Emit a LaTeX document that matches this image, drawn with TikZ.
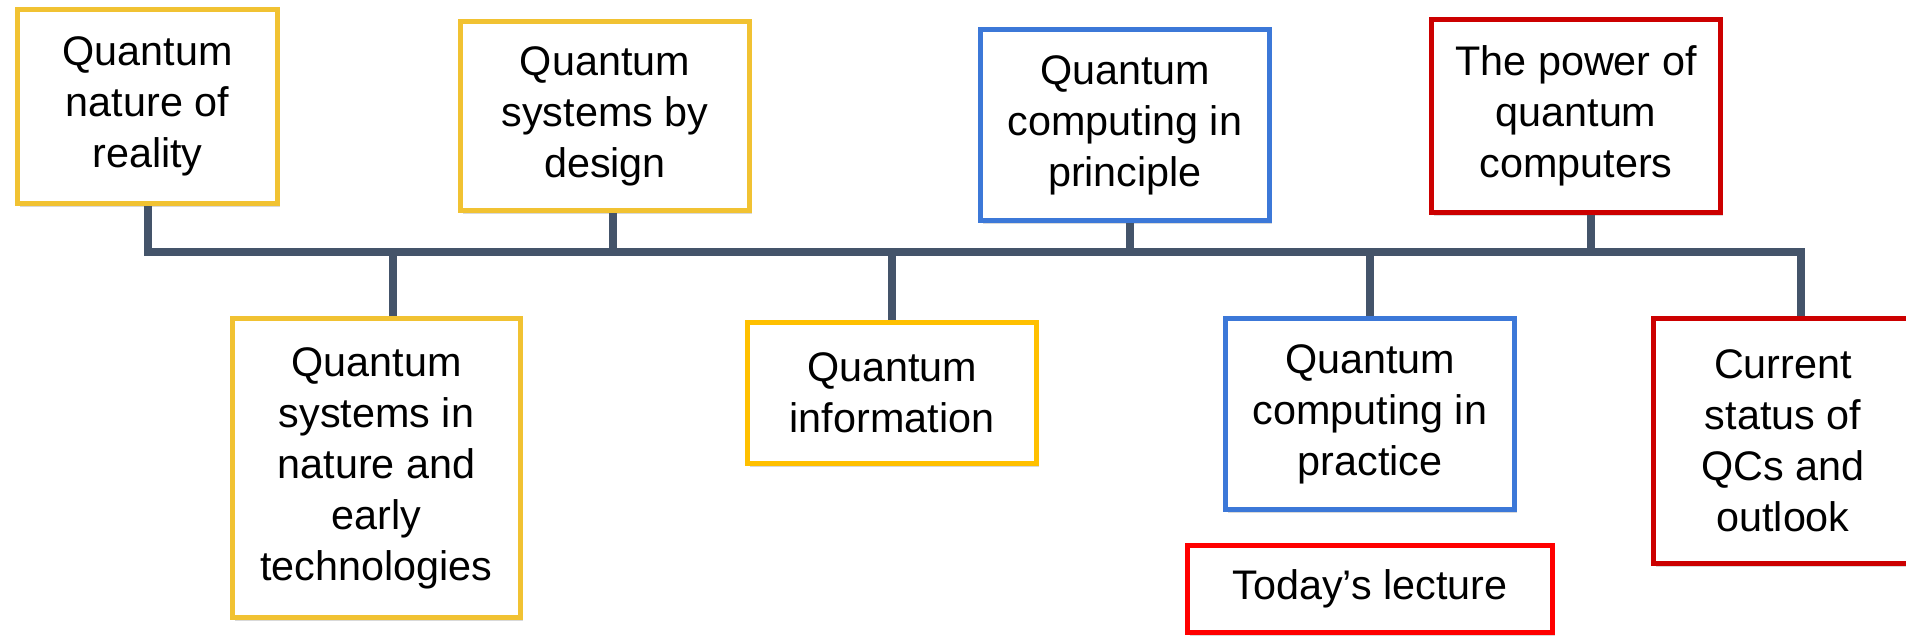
\documentclass[tikz,border=0pt]{standalone}
\usepackage{fontspec}
\setmainfont{Liberation Sans}
\usepackage{tikz}
\usetikzlibrary{shadows}
\usepackage{xcolor}

\definecolor{qyellow}{RGB}{241,194,50}
\definecolor{qgold}{RGB}{255,192,0}
\definecolor{qblue}{RGB}{60,120,216}
\definecolor{qred}{RGB}{204,0,0}
\definecolor{lecred}{RGB}{255,0,0}
\definecolor{busgray}{RGB}{68,84,106}

\begin{document}
\begin{tikzpicture}[x=0.75pt,y=0.75pt,yscale=-1,xscale=1,
  topic/.style={draw, line width=3.75pt, fill=white, inner sep=0pt, align=center,
    font={\fontsize{31}{38.3}\selectfont},
    drop shadow={shadow xshift=1.5pt, shadow yshift=-2.5pt, opacity=0.3}},
  bus/.style={color=busgray, line width=6pt}]
%set diagram size 1906 x 637
\path[use as bounding box, clip] (0,0) rectangle (1906,637);

%Shape: Rectangle (top row)
\node[topic, draw=qyellow, minimum width=195pt, minimum height=145.5pt] (nature) at (147.5,106.5) {Quantum\\nature of\\reality};
\node[topic, draw=qyellow, minimum width=216.75pt, minimum height=141.75pt] (design) at (605,116) {Quantum\\systems by\\design};
\node[topic, draw=qblue, minimum width=216.75pt, minimum height=143.25pt] (principle) at (1125,125) {Quantum\\computing in\\principle};
\node[topic, draw=qred, minimum width=216.75pt, minimum height=144.75pt] (power) at (1576,116) {The power of\\quantum\\computers};

%Shape: Rectangle (bottom row)
\node[topic, draw=qyellow, minimum width=216pt, minimum height=224.25pt] (early) at (376.5,468) {Quantum\\systems in\\nature and\\early\\technologies};
\node[topic, draw=qgold, minimum width=216.75pt, minimum height=105.75pt] (info) at (892,393) {Quantum\\information};
\node[topic, draw=qblue, minimum width=216.75pt, minimum height=143.25pt] (practice) at (1370,414) {Quantum\\computing in\\practice};
\node[topic, draw=qred, minimum width=194.25pt, minimum height=183.75pt] (outlook) at (1783,441) {Current\\status of\\QCs and\\outlook};

%Shape: Rectangle (lecture mark)
\node[topic, draw=lecred, drop shadow={opacity=0}, minimum width=273.75pt, minimum height=65.25pt] (today) at (1370,589) {Today’s lecture};

%Straight Lines (bus)
\coordinate (jOut) at (1801,252);
\draw[bus] (nature.south) |- (jOut) -- (jOut |- outlook.north);
\foreach \n/\x in {design/613, principle/1130, power/1591}
  \draw[bus] (\x,252) -- (\x,252 |- \n.south);
\foreach \n/\x in {early/393, info/892, practice/1370}
  \draw[bus] (\x,252) -- (\x,252 |- \n.north);

\end{tikzpicture}
\end{document}
